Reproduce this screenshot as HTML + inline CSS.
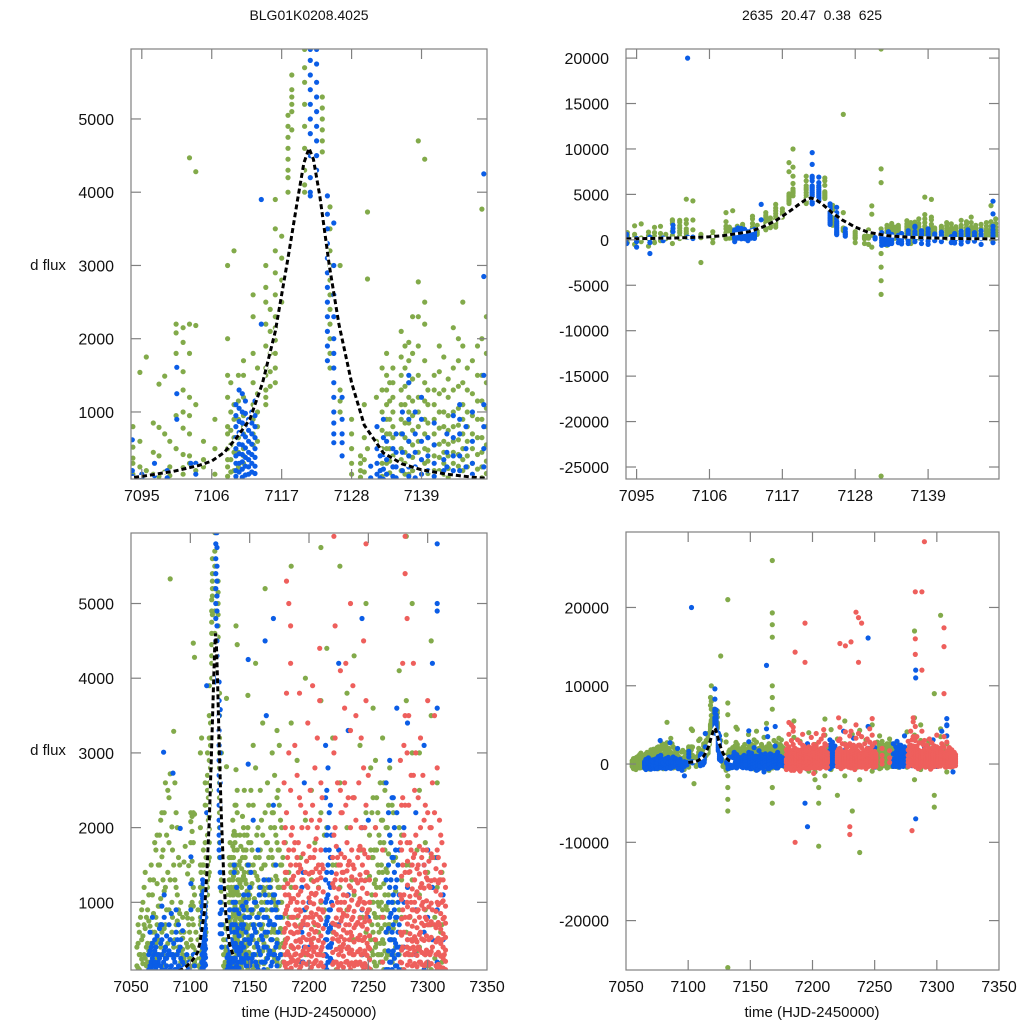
<!DOCTYPE html>
<html><head><meta charset="utf-8"><title>BLG01K0208.4025 light curve</title>
<style>
html,body{margin:0;padding:0;background:#fff;}
svg text{font-family:"Liberation Sans",sans-serif;fill:#111;}
</style></head>
<body>
<svg id="chart" width="1024" height="1024" viewBox="0 0 1024 1024" xmlns="http://www.w3.org/2000/svg">
<rect x="0" y="0" width="1024" height="1024" fill="#fff"/>
<text x="309" y="20" font-size="14" text-anchor="middle">BLG01K0208.4025</text>
<text x="812" y="20" font-size="14" text-anchor="middle" xml:space="preserve">2635  20.47  0.38  625</text>
<text x="48" y="270" font-size="15" text-anchor="middle">d flux</text>
<text x="48" y="755" font-size="15" text-anchor="middle">d flux</text>
<text x="309" y="1017" font-size="15" text-anchor="middle">time (HJD-2450000)</text>
<text x="812" y="1017" font-size="15" text-anchor="middle">time (HJD-2450000)</text>
</svg>
<script>
// ---- tick labels ----
const xTicksZoom = [7095, 7106, 7117, 7128, 7139];
const xTicksSeason = [7050, 7100, 7150, 7200, 7250, 7300, 7350];
const yTicksPositive = [1000, 2000, 3000, 4000, 5000];
const yTicksTopRight = [20000, 15000, 10000, 5000, 0, -5000, -10000, -15000, -20000, -25000];
const yTicksBottomRight = [20000, 10000, 0, -10000, -20000];

// ---- model (fit) curve ----
const modelT = [7085,7090,7093,7095,7100,7104,7106,7108,7110,7112,7114,7116,7118,7119.5,7120.5,7121.3,7122,7123,7124.5,7126,7128,7130,7133,7136,7139,7143,7147,7150];
const modelF = [60,85,100,120,190,270,330,450,660,900,1400,2100,3100,3900,4400,4600,4450,3950,3000,2200,1400,820,440,290,210,150,110,90];

// ---- green observatory ----
const greenT = [7055,7057,7059,7061,7063,7066,7068,7071,7074,7076,7079,7082,7083,7084.5,7086,7088,7090,
7093.6,7094.7,7095.7,7096.8,7097.7,7098.6,7099.4,7100.4,7101.5,7102.5,7103.5,7104.7,7106.5,7108.5,7109.5,7111,7112.5,7114.5,7116,7118,7118.6,7120.6,7123.4,7124.6,7126.2,7129.4,7130.5,7131.9,7133.5,7134.5,7135.8,7137,7138.5,7139.5,7141,7142.5,7144,7145.5,7147,7148.5,
7151,7153,7155,7157,7159,7161,7163,7165,7167.7,7169,7171,7173,7175,7177,7185,7190,7197,7202,7205,7210,7215,7220,7226,7232,7238,7243,7248,7252,7254,7256,7258,7260,7262,7264,7266,7268,7270,7276,7282,7287,7293,7298,7303,7308,7312];
const greenF = [
[-300,150,-100,400],[100,-400,300,600,-200],[240,-200,500,900,50],[-100,300,700,1200,-500],[400,-300,150,800],
[680,200,-400,1300,100],[300,1100,-200,600],[800,1700,200,-300,450],[950,1500,300,-100,1900],[1610,600,2200,150,-600],
[700,1200,400,2600,-200],[2400,900,1800,300],[5330,2720,1300,500],[2010,1000,600,-300],[3290,1500,400],[1200,700,2200,300,-500],[900,1600,400,-200],
[520,370,150,300,-300,800],[1540,250,-500,600],[1750,200,-200],[850,450,150,-700],[790,400,1380,120,-300],[1490,180,-100,700],[250,130,600],
[2080,1800,950,500,2200,-400],[2150,1950,1550,1300,1000,780,420,240,150],[2200,1800,1200,950,700,400,300,4470],[2180,1100,300,200,4280],
[350,250,-2500,600],[-300,150,900,500],[3000,1500,1200,800,700,500,350,250,120,2000],[3200,1100,900,650,450,200],
[1200,950,700,500,400,300,800,1500,1700],[2600,2300,1800,1400,1100,900,700,550],[3000,2700,2500,2200,1900,1600,1500,1300,1200,1100],
[3900,3500,3200,2900,2600,2300,2150,1980,1800,1600,1400],[4900,4750,4600,4450,4300,4200,4000,5050,8500,7500],
[5600,5400,5300,5200,5100,4850,10000,8000,7000,6200],[5950,5700,5500,5200,4900,4600,4300,4100,4000,6500,7000],
[5300,5150,5000,4850,4700,4550,6500,6800,6000],[3800,3500,3200,3000,2800,2600,2400,2200,2000,1800,1600],[1300,1150,1000,3000,13800],
[400,300,200,110,-400],[2815,3730,500,-800],[21000,7800,6300,-1500,-3000,-4500,-6000,-26000,600,1200],
[1800,1500,1300,1100,900,700,500,300,150,-300],[1600,1400,1200,1000,800,650,400,250],[2100,1750,1500,1300,1100,900,700,500,350,200],
[1950,1700,1400,1200,1000,850,600,400,250,150],[2775,4700,2300,1900,1500,1200,1000,800,600,450],[4450,2500,2200,1700,1400,1150,900,700,500,300],
[1500,1300,1100,900,700,550,400,200],[1750,1300,1000,800,600,450,300,150],[2150,1600,1300,1000,800,600,450,300],
[2500,1900,1400,1100,900,700,500,350,200],[1700,1250,950,700,500,300],[3770,2000,1500,1150,900,650,450,250,100],
[1800,1200,700,300,-200,2500],[2300,1500,900,500,100,-500,3100],[1600,1000,600,200,-300,2800,4200],[2000,1300,800,400,150,-600],
[2500,1700,1100,700,300,-100],[1900,1200,700,350,-400,3400],[2200,1500,1000,600,200,-200,5200],[2600,1800,1200,800,400,100,-800],
[26000,19300,17800,16200,10000,8500,7000,-5000,-3000,2000,1200,500],[3000,2200,1600,1100,700,300,-100],[2700,2000,1500,1000,600,250,-500],
[2400,1800,1300,900,500,200,-300,3300],[3100,2300,1700,1200,800,400,150],[2000,1500,1000,600,300,-200],
[5500,3400,1200,400,-300],[2900,1600,800,-600],[4000,2100,900,300,-900],[2500,1300,500,-1000,-2000],[-10500,1800,700,-3000,-5000],
[3700,2200,1000,300,-1500,5750],[2000,800,-700,4400],[3200,1500,600,-300,-4000],[2600,1200,400,-1500,5500],[3800,2000,900,200,-6000],
[-11300,2400,1100,500,-2000,4300],[3100,1700,800,-500],[2200,1300,600,-900,5000],[2800,1700,1000,500,100,-400],
[2400,1600,1000,600,300,-600,3600],[2900,2000,1300,800,400,150],[2200,1500,1000,700,300,-200],[2600,1800,1200,800,450,200,-500],
[3200,2100,1400,900,500,200],[2500,1700,1100,700,350,-300],[2000,1400,900,600,300,100],[2800,1900,1200,700,300],
[2300,1600,1000,500,200,-100],[2000,900,300,-400,4100],[5900,3700,1500,600,17000,-2000],[3000,1300,500,-700,5000],
[2500,1100,400,-300,3000],[1800,900,300,-4000,-5500,9000],[3500,1600,700,100,19000,4500],[2600,1200,500,-200,-1000],[1400,700,200,-400]
];
// extra green nights (dense low-flux coverage)
const greenT2 = [7056,7058,7060,7062,7064,7065,7067,7069,7070,7072,7073,7075,7077,7078,7080,7081,7085,7087,7089,7091,7092,
7109,7110.2,7113.2,7115.2,7117,7128,7130,7132.8,7134,7136.4,7137.6,7140,7141.8,7143.2,7144.8,7146.2,7147.8,7149.2,
7150,7152,7154,7156,7158,7160,7162,7164,7166,7168,7170,7172,7174,7176,7178,7180,
7183,7193,7208,7213,7223,7236,7245,7251,7253,7255,7257,7259,7261,7263,7265,7267,7269,7271,7273,7278,7285,7291,7300,7306,7311];
const greenF2 = [
[120,-250,450,-600,700],[300,-150,800,50,-700],[-350,550,180,1000,-50],[650,-450,250,1400,-150],[200,900,-250,450],
[1100,350,-550,750],[450,-350,1500,150],[-250,850,300,1300,-650],[600,1800,-100,350],[250,1250,-400,700,1900],
[1500,500,-250,950],[400,2100,-500,1050,700],[1300,300,-150,1700],[2200,650,-350,1150],[900,1900,150,-600],
[1400,450,2500,-200],[1700,800,-400,300],[1300,2600,500,-100],[2000,750,-300,1100],[1500,350,-500,850],[1000,200,-100,600],
[1400,1000,750,550,350,180],[1500,1150,900,650,450,250],[1600,1250,1000,800,600],[2400,2100,1800,1550,1350],[3400,3100,2800,2500],
[900,700,500,300,150,-300],[1100,650,350,180,-500],[1600,1300,1000,750,500,300,120,-600],[1400,1150,900,700,500,330,170],
[1900,1600,1350,1100,850,650,450,300,150,-400],[2300,1800,1450,1150,950,750,550,380,200],[1300,1100,850,650,480,330,160],
[1900,1550,1250,1000,780,560,380,200],[1450,1200,950,750,560,400,230,110],[2000,1700,1350,1050,820,620,420,260],
[1600,1300,1000,800,600,400,250],[1900,1500,1150,900,650,420,220],[2300,1800,1400,1050,800,550,330,160],
[1500,1100,800,500,250,-300],[1700,1250,850,550,250,-400],[1400,1050,700,400,150,-700],[1900,1350,950,600,300,-200],
[1600,1200,850,500,200,-500],[2100,1450,1000,650,350,-300],[1500,1150,800,450,180,-600],[1800,1300,900,550,250,-400],
[2300,1600,1100,700,350,-100],[1700,1300,900,600,300,-500],[2200,1500,1050,650,350,50],[1900,1350,950,600,250,-300],
[2500,1700,1200,800,450,150],[2100,1500,1000,650,300,-200],[1600,1200,800,450,200,-400],[1800,1300,850,500,180],
[1400,800,300,-300],[1600,700,200],[1200,600,-200],[1900,900,300],[1500,700,100],[1300,500,-400],[1700,800,300],
[1900,1350,900,550,250,-300],[2200,1600,1100,700,350,-100],[1700,1250,850,500,200,-500],[2400,1700,1200,800,450,150],
[1900,1400,950,600,300,-200],[2100,1500,1000,650,300,-400],[2600,1800,1250,800,450,100],[2000,1450,950,600,250,-300],
[2300,1650,1100,700,350,0],[1800,1300,850,500,200,-400],[2200,1550,1000,650,300,-100],[1600,1150,750,400,150],
[1900,1300,800,400,100],[1500,800,300,-200],[1700,900,350],[1400,700,150,-300],[1600,800,250],[1300,600,100],[1100,500,-200]
];

// ---- blue observatory ----
const blueT = [7065,7067,7069,7071,7073,7076,7077.5,7079,7081,7083,7085.4,7087,7089,7091.5,7093.5,7095,7097,7099,7100.5,7102.7,7103.5,
7109.8,7110.8,7111.8,7112.8,7113.8,7121.5,7122.5,7124.2,7125.2,7126.5,7131,7132.5,7133.5,7134.5,7137,7138,7140,7142.5,7145,7147,7148.8,
7151,7153,7155,7157,7159,7161,7163,7164,7166,7168,7170,7172,7176,7194,7196,7200,7214,7216,7218,7225,7233,7244.7,7250,7265,7268,7270,7272,7274,7276,7283,7290,7297,7304,7308,7313];
const blueF = [
[-200,100,-500,300,0],[200,-300,100,-100,400],[-100,300,0,-400,150],[100,-200,400,-300],[0,200,-100,-600,300],
[950,700,500,300,100,-200,-400],[3010,200,-300],[400,100,-200,-500,250],[-100,300,0,-300],[500,300,100,-200],[2730,300,-100],
[200,-300,100,-400],[0,300,-200,500],[1990,400,100,-300],[620,120,-400,200],[150,100,-800,-200],[-1500,130,-300,300],[200,-100,100],
[1610,1250,900],[20000,300],[300,150],
[1100,950,800,650,500,400,300,200,120,-200],[1250,1000,850,700,550,420,320,220,110],[900,750,600,450,350,250,150,-100],
[1150,950,800,650,500,380,260,160],[3900,2200],
[9600,8300,5950,5800,5600,5400,5200,5000,4800,4500,4200,4000,3950,6800,7000,6500],[5950,5750,5500,5300,5100,4900,4700,4500,4300,6900,6300],
[3950,3700,3500,3300,3100,2900,2700,2500,2300,2100,1900,1700],[3580,3000,2600,2300,2000,1800,1600,1400,1200,1000,850,700,580],
[1200,900,700,580,400],[260,100],[400,200,100,-200,-500],[600,350,150,-100,-400],[500,250,120,-300],[1500,1400,900,600,400,250,120,-200],
[1000,700,450,250,100,-400],[650,400,200,-100],[350,200,-300],[1100,900,700,400,200,-200],[1000,600,300,150,-500],[4250,2850,1500,1100,800,500,250,-300],
[900,500,200,-200,-600,1400],[700,300,0,-400,2100],[1000,600,200,-300,-800],[800,400,100,-200,1700],[1200,700,300,-100,-500],
[900,500,200,-300,-1000],[12600,4500,1100,600,200,-200],[3500,800,400,0,-600],[1300,700,300,-100],[1000,500,150,-300],
[4800,2300,1100,700,300,-100],[1500,900,400,0,-500],[800,300,-200],[-5000,1200,600,200,-300],[-8000,2600,900,400,-200],[1000,400,-300],
[3100,2400,1700,1300,1000,700,500,300,150,-200,-600],[2800,2000,1500,1100,800,600,400,200,-300],[2300,1600,1200,900,650,400,250,-100],
[4200,1700,700,-200],[3300,1100,400],[16100,4800,2000,900,300],[2100,800,-400],[2600,1300,600,100,-300],
[2900,1900,1200,800,500,200,-200],[2400,1600,1000,600,300,100,-400],[2000,1400,900,500,250,-100],[3600,2200,1300,800,400,150],
[1700,1100,700,400,100],[12000,11000,3400,1200,500,-7000],[2200,900,300,-200],[3100,1500,600,100],[4200,1200,500],
[5800,5000,4900,3600,1600,900,200],[1100,500,-1000]
];
// extra blue nights (dense low-flux coverage)
const blueT2 = [7066,7068,7070,7072,7074,7075,7078,7080,7082,7084,7086,7088,7090,7092,7110.3,7111.3,7112.3,
7132,7133,7135,7136,7139,7141,7143,7144,7146,7150,7152,7154,7156,7158,7160,7162,7165,7167,7169,7171,7173,7174,
7195,7215,7217,7219,7267,7269,7271,7273,7275,7280,7300];
const blueF2 = [
[350,-150,600,-450,150,-700],[-250,450,50,-550,250,800],[500,-350,200,-100,-650,350],[150,-500,550,-200,300],[-400,250,-50,650,-300],
[450,-250,150,-600,700],[800,350,-150,-450,1100],[250,-350,550,-100,150],[700,-300,350,-600],[300,-450,150,850],[450,-100,-550,250],
[600,100,-350,900],[350,-250,700,150],[500,-200,250,-600],
[1300,1050,870,720,560,430,300,180],[1150,980,820,660,510,380,260,140],[1000,850,700,560,420,300,180],
[800,500,300,150,-100,-300,-600],[900,650,420,220,80,-250,-500],[700,450,250,100,-200,-450],[1000,700,450,200,-100,-400],
[1200,900,600,350,150,-150,-500],[850,550,300,120,-200],[700,450,250,-50,-350],[950,650,400,200,-100,-450],[800,500,250,-150],
[1200,800,450,150,-250,-600],[900,550,250,-100,-450],[1000,650,300,0,-350],[800,450,150,-250,-700],[1100,700,350,50,-300],
[900,550,200,-150,-500],[1300,800,400,100,-250],[1000,600,250,-100,-600],[1200,750,350,0,-400],[900,500,200,-200],
[1100,700,300,-100,-500],[800,450,150,-250],[1000,600,250,-150],
[1400,700,200,-600],[2500,1900,1400,1050,750,500,280,100,-300],[2200,1700,1250,900,650,420,200,-200],[1900,1400,1000,700,450,220,-150],
[2200,1500,1000,650,350,100,-300],[1800,1300,850,500,200,-200],[2400,1600,1100,700,350,50],[1700,1200,800,450,150,-300],
[1500,1000,600,300,-100],[2000,1000,400,-200],[1700,800,200,-300]
];

// ---- red observatory ----
const redT = [7179,7181,7183,7184.5,7186,7188,7190,7192,7194,7197,7199,7201,7203,7205,7207,7209,7211,7221,7222,7224,7226.5,7228,7230,7231,7233,7235,7237,7239.5,
7242,7244,7246,7248,7250,7256,7262,7277,7279,7280,7281,7282.7,7284,7286,7288,7290,7292,7294,7296,7298,7300,7302,7304,7305.8,7308,7310,7312,7314];
const redF = [
[600,200,-300,1200,1800,2600,-700,400],[5300,3800,2200,1400,900,500,100,-500],[5000,3000,1700,1100,700,300,-200,-800],
[4700,4200,2500,1500,1000,600,200,-400],[-10000,14300,2000,1300,800,400,0,-600],[3100,1800,1200,700,300,-300],
[2700,1600,1000,600,200,-200,-900],[3800,2400,1500,900,500,100,-500],[18000,13000,2000,1300,700,300,-300],[2200,1400,800,400,0,-600],
[3400,2000,1200,700,300,-200],[2500,1600,1000,500,100,-400,-1200],[3900,2300,1400,800,400,0,-500],[2800,1700,1100,600,200,-300],
[3200,2000,1300,700,300,-200],[4400,3700,2100,1400,800,300,-100],[2400,1500,900,400,0,-500],[5900,3000,1900,1200,600,200,-300],
[15400,4700,3200,2000,1300,700,200],[2600,1600,1000,500,100,-400],[15100,4100,2500,1500,900,400,-200],[2200,1400,800,400,-100],
[-8000,-9000,3600,2600,1600,1000,500,0],[15600,4200,2300,1300,700,200,-500],[2400,1500,900,400,-100],[19400,5000,3300,2000,1200,600,100],
[18700,13000,3900,2400,1500,800,300,-300],[18000,3500,2100,1300,700,200,-400],[2600,1700,1000,500,0],[3200,2000,1300,700,300,-200],
[4500,2800,1700,1000,500,100],[5800,3700,2300,1400,800,300,-300],[2700,1600,900,400,-100],[2000,1100,500,0],[1700,800,200],
[2900,1800,1100,600,200,-300],[4200,2400,1500,900,400,0],[-8500,3100,1900,1100,600,100],[5900,5400,3500,2300,1400,800,300,-200],
[22000,16000,14000,4800,3000,1800,1000,400],[3500,2300,1400,800,300,-300],[2700,1700,1000,500,0,-500],[22000,12000,4200,2700,1600,900,400],
[28400,3000,1900,1100,500,0],[2400,1500,900,400,-200],[3200,2000,1200,600,200],[2700,1700,1000,500,-100],[2300,1400,800,300,-300],
[3700,2200,1300,700,200],[2000,1200,700,300,-200],[2600,1600,900,400,0],[17400,15000,9000,3500,2200,1300,700],[2800,1700,1000,500,100],
[2100,1300,700,300,-300],[1800,1000,500,100],[1500,800,300,-100]
];
// extra red nights (dense low-flux coverage)
const redT2 = [7180,7182,7185,7187,7189,7191,7193,7195,7198,7200,7202,7204,7206,7208,7210,7212,7220,7223,7225,7227,7229,7232,7234,7236,7238,7241,7243,7245,7247,7249,7251,
7278,7283,7285,7287,7289,7291,7293,7295,7297,7299,7301,7303,7307,7309,7311,7313,7315];
const redF2 = [
[1400,1100,850,650,450,300,150,-250,-600,2000],[1600,1250,950,720,520,340,180,-150,-500],[1300,1050,800,600,420,260,120,-350,-800,1900],
[1700,1350,1050,800,580,380,220,-100,-450],[1500,1200,900,680,480,310,160,-300,-700],[1800,1400,1100,820,600,400,230,-200],
[1450,1150,880,660,470,290,140,-350,2300],[1650,1300,1000,750,530,350,190,-250,-600],[1550,1220,930,700,500,320,170,-400],
[1750,1380,1060,800,570,370,200,-150,-500],[1400,1120,860,640,450,280,130,-300,2100],[1600,1280,980,730,520,340,180,-250],
[1850,1450,1120,840,610,400,220,-100,-550],[1500,1190,910,690,490,300,150,-350],[1700,1330,1020,770,550,360,190,-200,2600],
[1450,1140,870,650,460,290,140,-400],[1600,1250,960,720,510,330,170,-300],[1750,1380,1060,790,570,370,200,-150,-600],
[1500,1180,900,680,480,300,150,-350],[1650,1300,1000,750,540,350,180,-250,2200],[1400,1100,850,630,440,280,130,-400],
[1800,1420,1090,820,590,380,210,-100],[1550,1220,940,700,500,320,160,-300,-700],[1700,1340,1030,770,550,360,190,-200],
[1450,1150,880,660,470,300,150,-350,2400],[1600,1260,970,730,520,340,170,-250],[1750,1370,1050,790,560,370,200,-150,-600],
[1500,1190,910,680,490,310,150,-300],[1650,1290,990,740,530,350,180,-200,2000],[1400,1120,860,640,450,290,140,-400],
[1300,1000,750,550,380,230,110,-300],
[1700,1350,1040,780,560,360,190,-200,2300],[1550,1230,940,710,500,320,160,-350],[1800,1410,1080,810,580,380,210,-150,-600],
[1500,1180,900,680,480,300,150,-300],[1650,1300,1000,750,540,350,180,-250,2500],[1450,1140,880,660,470,290,140,-400],
[1750,1380,1060,800,570,370,200,-150],[1600,1250,960,720,510,330,170,-300,-650],[1500,1190,910,690,490,310,150,-350,2100],
[1700,1330,1020,770,550,360,190,-200],[1550,1220,940,700,500,320,160,-300],[1650,1290,990,740,530,340,180,-250,2000],
[1450,1150,880,660,470,300,150,-400],[1600,1260,970,730,520,330,170,-300],[1400,1100,850,640,450,280,130,-350,1900],
[1300,1020,780,580,400,250,120,-300],[1200,950,720,530,360,210,100,-200]
];

const NS = 'http://www.w3.org/2000/svg';
const svg = document.getElementById('chart');
function mk(tag, attrs, parent) {
  const e = document.createElementNS(NS, tag);
  for (const k in attrs) e.setAttribute(k, attrs[k]);
  (parent || svg).appendChild(e);
  return e;
}

const panels = [
  {id:'top-left', x0:131, x1:487, y0:49, y1:479, t0:7093.3, t1:7149.3, f0:85, f1:5955, xt:xTicksZoom, yt:yTicksPositive, m0:7085, m1:7150},
  {id:'top-right', x0:626, x1:999, y0:49, y1:479, t0:7093.4, t1:7149.7, f0:-26320, f1:21000, xt:xTicksZoom, yt:yTicksTopRight, m0:7085, m1:7150},
  {id:'bottom-left', x0:131, x1:487, y0:533, y1:970, t0:7050, t1:7350, f0:94, f1:5944, xt:xTicksSeason, yt:yTicksPositive, m0:7090, m1:7136},
  {id:'bottom-right', x0:626, x1:999, y0:532, y1:970, t0:7050, t1:7350, f0:-26310, f1:29640, xt:xTicksSeason, yt:yTicksBottomRight, m0:7100, m1:7136}
];

const series = [
  {name:'green', T:greenT.concat(greenT2), F:greenF.concat(greenF2), color:'#82aa4a'},
  {name:'blue', T:blueT.concat(blueT2), F:blueF.concat(blueF2), color:'#0b5de6'},
  {name:'red', T:redT.concat(redT2), F:redF.concat(redF2), color:'#ee5f5c'}
];

panels.forEach(p => {
  const xs = t => p.x0 + (t - p.t0) / (p.t1 - p.t0) * (p.x1 - p.x0);
  const ys = f => p.y1 - (f - p.f0) / (p.f1 - p.f0) * (p.y1 - p.y0);
  const g = mk('g', {});
  
  
  const cp = mk('clipPath', {id:'clip-' + p.id}, g);
  mk('rect', {x:p.x0, y:p.y0, width:p.x1 - p.x0, height:p.y1 - p.y0}, cp);
  const pts = mk('g', {'clip-path':'url(#clip-' + p.id + ')'}, g);
  
  
  series.forEach(s => {
    const sg = mk('g', {fill:s.color}, pts);
    
    
    s.T.forEach((t, i) => {
      const x = xs(t);
      if (x < p.x0 - 4 || x > p.x1 + 4) return;
      s.F[i].forEach(f => {
        const y = ys(f);
        if (y < p.y0 - 4 || y > p.y1 + 4) return;
        const c = mk('circle', {cx:x.toFixed(1), cy:y.toFixed(1), r:2.6}, sg);
        
        
      });
    });
  });
  // model curve
  let d = '';
  let first = true;
  modelT.forEach((t, i) => {
    if (t < p.m0 || t > p.m1) return;
    d += (first ? 'M' : 'L') + xs(t).toFixed(1) + ' ' + ys(modelF[i]).toFixed(1);
    first = false;
  });
  const under = mk('path', {d:d, fill:'none', stroke:'#fff', 'stroke-width':3}, pts);
  
  
  const line = mk('path', {d:d, fill:'none', stroke:'#000', 'stroke-width':3, 'stroke-dasharray':'5,3'}, pts);
  
  
  // frame
  const fr = mk('rect', {x:p.x0, y:p.y0, width:p.x1 - p.x0, height:p.y1 - p.y0, fill:'none', stroke:'#808080', 'stroke-width':1.2}, g);
  
  
  // x ticks
  p.xt.forEach(v => {
    const x = xs(v);
    if (x > p.x0 + 1 && x < p.x1 - 1) {
      mk('line', {x1:x, y1:p.y1, x2:x, y2:p.y1 - 10, stroke:'#808080', 'stroke-width':1.2}, g);
      mk('line', {x1:x, y1:p.y0, x2:x, y2:p.y0 + 10, stroke:'#808080', 'stroke-width':1.2}, g);
    }
    const tx = mk('text', {x:x, y:p.y1 + 22, 'font-size':16, 'text-anchor':'middle'}, g);
    tx.textContent = v;
    
    
  });
  // y ticks
  p.yt.forEach(v => {
    const y = ys(v);
    mk('line', {x1:p.x0, y1:y, x2:p.x0 + 10, y2:y, stroke:'#808080', 'stroke-width':1.2}, g);
    mk('line', {x1:p.x1, y1:y, x2:p.x1 - 10, y2:y, stroke:'#808080', 'stroke-width':1.2}, g);
    const ty = mk('text', {x:p.x0 - 17, y:y + 6, 'font-size':16, 'text-anchor':'end'}, g);
    ty.textContent = v;
    
    
  });
});
</script>
</body></html>
